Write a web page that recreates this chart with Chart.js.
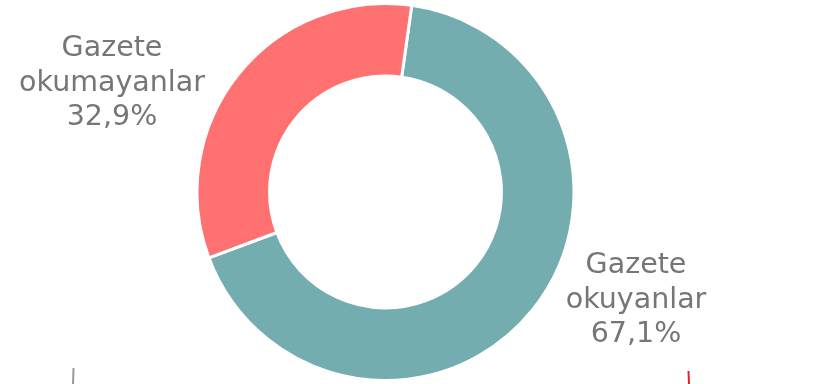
<!DOCTYPE html>
<html>
<head>
<meta charset="utf-8">
<script src="https://cdn.jsdelivr.net/npm/chart.js@4/dist/chart.umd.min.js"></script>
<style>
html,body{margin:0;padding:0;background:#fff;}
#wrap{position:relative;width:823px;height:384px;}
</style>
</head>
<body>
<div id="wrap"><canvas id="c" width="823" height="384"></canvas></div>
<script>
const categories = ["Gazete okuyanlar", "Gazete okumayanlar"];
const labelLines = [["Gazete", "okuyanlar"], ["Gazete", "okumayanlar"]];
const values = [67.1, 32.9];
const valueLabels = ["67,1%", "32,9%"];
const colors = ["#73ADB0", "#FF7070"];

// label anchor positions (text centers) for each slice
const labelPos = [{x: 636, y: 266}, {x: 112, y: 49}];

const labelPlugin = {
  id: 'sliceLabels',
  afterDraw(chart) {
    const ctx = chart.ctx;
    ctx.save();
    ctx.font = '28.5px "DejaVu Sans", Verdana, sans-serif';
    ctx.fillStyle = '#767676';
    ctx.textAlign = 'center';
    ctx.textBaseline = 'middle';
    const lh = 34.5;
    categories.forEach((c, i) => {
      const lines = labelLines[i].concat([valueLabels[i]]);
      lines.forEach((t, j) => ctx.fillText(t, labelPos[i].x, labelPos[i].y + j * lh));
    });
    // small stray marks at bottom edge
    ctx.lineWidth = 2;
    ctx.strokeStyle = '#999999';
    ctx.beginPath(); ctx.moveTo(73.5, 368); ctx.lineTo(73, 384); ctx.stroke();
    ctx.strokeStyle = '#E8202A';
    ctx.beginPath(); ctx.moveTo(688.5, 371); ctx.lineTo(689, 384); ctx.stroke();
    ctx.restore();
  }
};

new Chart(document.getElementById('c'), {
  type: 'doughnut',
  data: {
    labels: categories,
    datasets: [{
      data: values,
      backgroundColor: colors,
      borderColor: '#ffffff',
      borderWidth: 3,
      hoverOffset: 0
    }]
  },
  options: {
    responsive: false,
    animation: false,
    rotation: 8,
    cutout: '61.5%',
    layout: {padding: {left: 0, right: 52, top: 2, bottom: 2}},
    plugins: {legend: {display: false}, tooltip: {enabled: false}}
  },
  plugins: [labelPlugin]
});
</script>
</body>
</html>
